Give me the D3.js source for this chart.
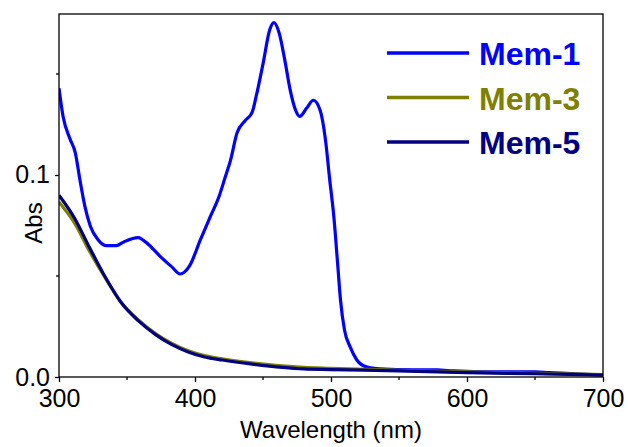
<!DOCTYPE html>
<html>
<head>
<meta charset="utf-8">
<script src="https://cdn.jsdelivr.net/npm/d3@7"></script>
<style>
  body { margin: 0; background: #fff; }
  svg { display: block; font-family: Arial, "Liberation Sans", sans-serif; }
</style>
</head>
<body>
<svg id="chart" width="628" height="447"></svg>
<script>
// absorbance spectra
var mem1Wl  = [300, 303, 308, 312, 315.4, 319, 323, 328.7, 335, 342, 348, 358, 366, 374, 383, 389, 396, 404, 411, 418, 422, 426, 431, 437, 442, 445, 450, 455, 458, 462, 466, 470, 474, 477, 482, 487, 492, 496, 499, 502, 505, 507, 510, 514, 519, 526, 536, 560, 578, 590, 620, 650, 660, 680, 700];
var mem1Abs = [0.143, 0.129, 0.118, 0.111, 0.0975, 0.0846, 0.0748, 0.068, 0.065, 0.065, 0.067, 0.069, 0.0655, 0.060, 0.0545, 0.051, 0.055, 0.068, 0.079, 0.090, 0.0985, 0.107, 0.121, 0.127, 0.131, 0.139, 0.155, 0.172, 0.1754, 0.170, 0.157, 0.142, 0.132, 0.129, 0.133, 0.137, 0.132, 0.117, 0.098, 0.080, 0.055, 0.038, 0.023, 0.015, 0.0084, 0.005, 0.004, 0.0035, 0.0035, 0.003, 0.0025, 0.0025, 0.0022, 0.0015, 0.001];

var memWl   = [300, 312, 321, 334, 346, 358, 371, 383, 395, 407, 420, 442, 480, 500, 550, 600, 650, 700];
var mem3Abs = [0.0866, 0.0755, 0.064, 0.049, 0.0366, 0.0285, 0.0215, 0.0166, 0.013, 0.0106, 0.009, 0.007, 0.0048, 0.0043, 0.0033, 0.0025, 0.0018, 0.0012];
var mem5Abs = [0.090, 0.078, 0.066, 0.0495, 0.0366, 0.028, 0.021, 0.016, 0.0124, 0.0099, 0.0084, 0.0064, 0.004, 0.0037, 0.003, 0.0022, 0.0016, 0.001];

var seriesNames = ["Mem-1", "Mem-3", "Mem-5"];
var seriesColors = ["#0000ff", "#808000", "#000080"];

var xTicks = [300, 400, 500, 600, 700];
var xMinor = [350, 450, 550, 650];
var yTicks = [0.0, 0.1];
var yMinor = [0.05, 0.15];

var svg = d3.select("#chart");
var pLeft = 59, pRight = 603, pTop = 14, pBottom = 377;
var font = "Arial, 'Liberation Sans', sans-serif";

var x = d3.scaleLinear().domain([300, 700]).range([pLeft, pRight]);
var y = d3.scaleLinear().domain([0, 0.1797]).range([pBottom, pTop]);

var series = [
    {name: seriesNames[0], color: seriesColors[0], pts: mem1Wl.map(function(w, i){ return [w, mem1Abs[i]]; })},
    {name: seriesNames[1], color: seriesColors[1], pts: memWl.map(function(w, i){ return [w, mem3Abs[i]]; })},
    {name: seriesNames[2], color: seriesColors[2], pts: memWl.map(function(w, i){ return [w, mem5Abs[i]]; })}
];

var line = d3.line()
    .x(function(d){ return x(d[0]); })
    .y(function(d){ return y(d[1]); })
    .curve(d3.curveMonotoneX);

svg.append("defs").append("clipPath").attr("id", "clip")
    .append("rect").attr("x", pLeft).attr("y", pTop)
    .attr("width", pRight - pLeft).attr("height", pBottom - pTop);

var plot = svg.append("g").attr("clip-path", "url(#clip)");
series.forEach(function(s) {
    plot.append("path")
        .attr("d", line(s.pts))
        .attr("fill", "none")
        .attr("stroke", s.color)
        .attr("stroke-width", 3.2)
        .attr("stroke-linejoin", "round");
});

// frame
svg.append("rect")
    .attr("x", pLeft).attr("y", pTop)
    .attr("width", pRight - pLeft).attr("height", pBottom - pTop)
    .attr("fill", "none").attr("stroke", "#000").attr("stroke-width", 1.3);

// x axis
var xAxis = svg.append("g").attr("transform", "translate(0," + pBottom + ")")
    .call(d3.axisBottom(x).tickValues(xTicks).tickSize(5).tickPadding(7).tickFormat(d3.format("d")));
xAxis.select(".domain").remove();
xAxis.selectAll("line").attr("stroke", "#000").attr("stroke-width", 1.3);
xAxis.selectAll("text").attr("font-size", 25).attr("fill", "#000").attr("font-family", font);
svg.append("g").attr("transform", "translate(0," + pBottom + ")")
    .selectAll("line").data(xMinor).enter().append("line")
    .attr("x1", x).attr("x2", x).attr("y1", 0).attr("y2", 3)
    .attr("stroke", "#000").attr("stroke-width", 1.3);

// y axis
var yAxis = svg.append("g").attr("transform", "translate(" + pLeft + ",0)")
    .call(d3.axisLeft(y).tickValues(yTicks).tickSize(4).tickPadding(5).tickFormat(d3.format(".1f")));
yAxis.select(".domain").remove();
yAxis.selectAll("line").attr("stroke", "#000").attr("stroke-width", 1.3);
yAxis.selectAll("text").attr("font-size", 25).attr("fill", "#000").attr("font-family", font);
svg.append("g").attr("transform", "translate(" + pLeft + ",0)")
    .selectAll("line").data(yMinor).enter().append("line")
    .attr("y1", y).attr("y2", y).attr("x1", 0).attr("x2", -3)
    .attr("stroke", "#000").attr("stroke-width", 1.3);

// titles
svg.append("text")
    .attr("x", (pLeft + pRight) / 2).attr("y", 438)
    .attr("text-anchor", "middle").attr("font-size", 24).attr("font-family", font)
    .text("Wavelength (nm)");
svg.append("text")
    .attr("transform", "translate(42,223) rotate(-90)")
    .attr("text-anchor", "middle").attr("font-size", 24).attr("font-family", font)
    .text("Abs");

// legend
var legend = svg.append("g");
series.forEach(function(s, i) {
    var ly = 53 + i * 44.5;
    legend.append("line")
        .attr("x1", 387).attr("x2", 469).attr("y1", ly).attr("y2", ly)
        .attr("stroke", s.color).attr("stroke-width", 3.5);
    legend.append("text")
        .attr("x", 479).attr("y", ly + 12)
        .attr("font-size", 32).attr("font-weight", "bold").attr("font-family", font)
        .attr("fill", s.color)
        .text(s.name);
});
</script>
</body>
</html>
